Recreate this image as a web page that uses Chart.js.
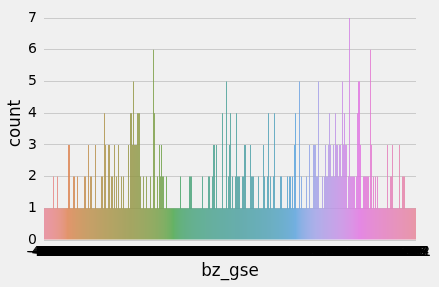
<!DOCTYPE html>
<html>
<head>
<meta charset="utf-8">
<script src="https://cdn.jsdelivr.net/npm/chart.js@4.4.1/dist/chart.umd.min.js"></script>
<style>
html,body{margin:0;padding:0;background:#f0f0f0;}
#wrap{width:439px;height:287px;position:relative;}
canvas{display:block;}
</style>
</head>
<body>
<div id="wrap"><canvas id="c" width="439" height="287"></canvas></div>
<script>
// ---- DATA ----
const categories = [
"-4.98","-4.91","-4.87","-4.82","-4.79","-4.75","-4.73","-4.68","-4.66","-4.61","-4.58","-4.55","-4.52","-4.49","-4.47","-4.43","-4.40","-4.37","-4.33","-4.31",
"-4.28","-4.26","-4.22","-4.19","-4.17","-4.14","-4.11","-4.08","-4.06","-4.03","-4.00","-3.97","-3.95","-3.92","-3.89","-3.86","-3.84","-3.81","-3.78","-3.76",
"-3.73","-3.70","-3.68","-3.65","-3.62","-3.60","-3.57","-3.54","-3.52","-3.49","-3.46","-3.44","-3.41","-3.38","-3.36","-3.33","-3.30","-3.28","-3.25","-3.22",
"-3.20","-3.17","-3.14","-3.12","-3.09","-3.06","-3.04","-3.01","-2.98","-2.96","-2.93","-2.90","-2.88","-2.85","-2.82","-2.80","-2.77","-2.74","-2.72","-2.69",
"-2.66","-2.64","-2.61","-2.58","-2.56","-2.53","-2.50","-2.48","-2.45","-2.42","-2.40","-2.37","-2.34","-2.32","-2.29","-2.26","-2.24","-2.21","-2.18","-2.16",
"-2.13","-2.10","-2.08","-2.05","-2.02","-2.00","-1.97","-1.94","-1.92","-1.89","-1.86","-1.84","-1.81","-1.78","-1.76","-1.73","-1.70","-1.68","-1.65","-1.62",
"-1.60","-1.57","-1.54","-1.52","-1.49","-1.46","-1.44","-1.41","-1.38","-1.36","-1.33","-1.30","-1.28","-1.25","-1.22","-1.20","-1.17","-1.14","-1.12","-1.09",
"-1.06","-1.04","-1.01","-0.98","-0.96","-0.93","-0.90","-0.88","-0.85","-0.82","-0.80","-0.77","-0.74","-0.72","-0.69","-0.66","-0.64","-0.61","-0.58","-0.56",
"-0.53","-0.50","-0.48","-0.45","-0.42","-0.40","-0.37","-0.34","-0.32","-0.29","-0.26","-0.24","-0.21","-0.18","-0.16","-0.13","-0.10","-0.08","-0.05","-0.02",
"0.0","0.03","0.05","0.08","0.11","0.13","0.16","0.19","0.21","0.24","0.27","0.29","0.32","0.35","0.37","0.40","0.43","0.45","0.48","0.51",
"0.53","0.56","0.59","0.61","0.64","0.67","0.69","0.72","0.75","0.77","0.80","0.83","0.85","0.88","0.91","0.93","0.96","0.99","1.01","1.04",
"1.07","1.09","1.12","1.15","1.17","1.20","1.23","1.25","1.28","1.31","1.33","1.36","1.39","1.41","1.44","1.47","1.49","1.52","1.55","1.57",
"1.60","1.63","1.65","1.68","1.71","1.73","1.76","1.79","1.81","1.84","1.87","1.89","1.92","1.95","1.97","2.00","2.03","2.05","2.08","2.11",
"2.13","2.16","2.19","2.21","2.24","2.27","2.29","2.32","2.35","2.37","2.40","2.43","2.45","2.48","2.51","2.53","2.56","2.59","2.61","2.64",
"2.67","2.69","2.72","2.75","2.77","2.80","2.83","2.85","2.88","2.91","2.93","2.96","2.99","3.01","3.04","3.07","3.09","3.12","3.15","3.17",
"3.20","3.23","3.25","3.28","3.31","3.33","3.36","3.39","3.41","3.44","3.47","3.49","3.52","3.55","3.57","3.60","3.63","3.65","3.68","3.71",
"3.73","3.76","3.79","3.81","3.84","3.87","3.89","3.92","3.95","3.97","4.00","4.03","4.05","4.08","4.11","4.13","4.16","4.19","4.21","4.24",
"4.27","4.29","4.32","4.35","4.37","4.40","4.43","4.45","4.48","4.51","4.53","4.56","4.59","4.61","4.64","4.67","4.69","4.72","4.75","4.77",
"4.80","4.83","4.85","4.88","4.91","4.93","4.96","4.99","5.01","5.04","5.12","5.21"
];
const counts = [
1,1,1,1,1,1,1,1,1,2, 1,1,1,2,1,1,1,1,1,1,
1,1,1,1,3,3,1,1,1,2, 2,1,1,2,1,1,1,1,1,1,
2,2,1,1,3,1,2,2,1,1, 1,3,1,1,1,1,1,2,2,1,
4,3,1,1,3,3,1,2,2,1, 3,1,2,1,3,1,1,2,1,2,
1,1,1,1,3,1,4,4,3,5, 3,3,3,4,4,4,2,1,1,2,
1,1,2,1,1,1,2,1,1,6, 4,1,1,2,1,3,2,3,2,2,
1,1,2,1,1,1,1,1,1,1, 1,1,1,1,1,1,2,1,1,1,
1,1,1,1,1,2,2,2,1,1, 1,1,1,1,1,1,1,1,2,1,
1,1,1,1,2,2,1,1,2,3, 3,1,3,1,1,1,1,1,4,1,
1,1,5,1,2,3,4,1,2,1, 1,2,4,2,2,2,1,1,2,2,
3,3,1,1,1,1,3,2,2,2, 1,1,1,1,2,1,1,1,1,3,
2,1,1,2,4,1,2,1,1,2, 4,1,1,1,1,1,2,2,1,1,
1,1,1,2,1,2,2,1,2,1, 3,4,1,1,1,5,1,2,1,1,
1,1,2,1,1,3,1,1,1,3, 3,3,2,2,5,1,1,1,2,1,
2,3,2,2,3,4,3,2,2,3, 2,4,3,3,2,3,3,2,5,3,
4,3,3,1,2,7,2,2,2,2, 2,1,2,4,5,5,3,1,1,2,
2,2,2,2,2,1,6,3,1,2, 1,2,1,2,1,1,1,1,1,1,
1,1,1,3,1,1,2,2,3,1, 1,1,1,1,1,3,1,1,2,2,
2,1,1,1,1,1,1,1,1,1, 1,1
];
const yTicks = [0,1,2,3,4,5,6,7];
const xTitle = "bz_gse";
const yTitle = "count";

// ---- seaborn husl palette (desaturated 0.75) ----
const M = [[3.2406,-1.5372,-0.4986],[-0.9689,1.8758,0.0415],[0.0557,-0.2040,1.0570]];
const refU = 0.19784, refV = 0.46834, kappa = 903.2962962, eps = 0.0088564516;
function maxChroma(L, H) {
  const hr = H / 360 * 2 * Math.PI, sinH = Math.sin(hr), cosH = Math.cos(hr);
  const sub1 = Math.pow(L + 16, 3) / 1560896;
  const sub2 = sub1 > eps ? sub1 : L / kappa;
  let res = Infinity;
  for (const [m1, m2, m3] of M) {
    const top = (0.99915 * m1 + 1.05122 * m2 + 1.14460 * m3) * sub2;
    const rb = 0.86330 * m3 - 0.17266 * m2;
    const lb = 0.12949 * m3 - 0.38848 * m1;
    const bottom = (rb * sinH + lb * cosH) * sub2;
    for (const t of [0, 1]) {
      const C = L * (top - 1.05122 * t) / (bottom + 0.17266 * sinH * t);
      if (C > 0 && C < res) res = C;
    }
  }
  return res;
}
function fInv(t) { const t3 = t * t * t; return t3 > eps ? t3 : (116 * t - 16) / kappa; }
function fromLinear(c) { return c <= 0.0031308 ? 12.92 * c : 1.055 * Math.pow(c, 1 / 2.4) - 0.055; }
function husl2rgb(h, s, l) {
  const C = maxChroma(l, h) / 100 * s;
  const hr = h / 360 * 2 * Math.PI;
  const U = C * Math.cos(hr), V = C * Math.sin(hr);
  const Y = fInv((l + 16) / 116);
  const vu = U / (13 * l) + refU, vv = V / (13 * l) + refV;
  const X = -(9 * Y * vu) / ((vu - 4) * vv - vu * vv);
  const Z = (9 * Y - 15 * vv * Y - vv * X) / (3 * vv);
  return M.map(r => Math.min(1, Math.max(0, fromLinear(r[0] * X + r[1] * Y + r[2] * Z))));
}
function rgb2hls(r, g, b) {
  const mx = Math.max(r, g, b), mn = Math.min(r, g, b), l = (mx + mn) / 2;
  if (mx === mn) return [0, l, 0];
  const s = l <= 0.5 ? (mx - mn) / (mx + mn) : (mx - mn) / (2 - mx - mn);
  const rc = (mx - r) / (mx - mn), gc = (mx - g) / (mx - mn), bc = (mx - b) / (mx - mn);
  let h = r === mx ? bc - gc : (g === mx ? 2 + rc - bc : 4 + gc - rc);
  h = ((h / 6) % 1 + 1) % 1;
  return [h, l, s];
}
function hv(m1, m2, h) {
  h = ((h % 1) + 1) % 1;
  if (h < 1 / 6) return m1 + (m2 - m1) * h * 6;
  if (h < 0.5) return m2;
  if (h < 2 / 3) return m1 + (m2 - m1) * (2 / 3 - h) * 6;
  return m1;
}
function hls2rgb(h, l, s) {
  if (s === 0) return [l, l, l];
  const m2 = l <= 0.5 ? l * (1 + s) : l + s - l * s, m1 = 2 * l - m2;
  return [hv(m1, m2, h + 1 / 3), hv(m1, m2, h), hv(m1, m2, h - 1 / 3)];
}
function palette(n) {
  const out = [];
  for (let i = 0; i < n; i++) {
    const h = ((i / n + 0.01) % 1) * 359;
    const rgb = husl2rgb(h, 0.9 * 99, 0.65 * 99);
    const [hh, ll, ss] = rgb2hls(...rgb);
    const d = hls2rgb(hh, ll, ss * 0.75);
    out.push('rgb(' + d.map(v => Math.round(v * 255)).join(',') + ')');
  }
  return out;
}
const colors = palette(categories.length);

Chart.defaults.font.family = "'DejaVu Sans', sans-serif";
new Chart(document.getElementById('c'), {
  type: 'bar',
  data: {
    labels: categories,
    datasets: [{
      data: counts,
      backgroundColor: colors,
      borderWidth: 0,
      barPercentage: 0.8,
      categoryPercentage: 1
    }]
  },
  options: {
    responsive: false,
    animation: false,
    events: [],
    layout: { padding: { left: 0, right: 23, top: 7, bottom: 0 } },
    plugins: { legend: { display: false }, tooltip: { enabled: false } },
    scales: {
      x: {
        grid: { display: false, drawTicks: false },
        border: { display: false },
        ticks: {
          autoSkip: false, maxRotation: 0, minRotation: 0,
          color: '#000', font: { size: 14 }, padding: 4
        },
        title: { display: true, text: xTitle, color: '#000', font: { size: 16.8 }, padding: { top: 0, bottom: 5 } },
        afterFit: s => { s.height = 47; s.paddingLeft = 0; s.paddingRight = 0; }
      },
      y: {
        min: 0, max: 7.35,
        grid: { color: '#cbcbcb', lineWidth: 1, drawTicks: false },
        border: { display: false },
        ticks: { stepSize: 1, color: '#000', font: { size: 14 }, padding: 7 },
        afterBuildTicks: s => { s.ticks = yTicks.map(v => ({ value: v })); },
        title: { display: true, text: yTitle, color: '#000', font: { size: 16.8 }, padding: { top: 6, bottom: 0 } },
        afterFit: s => { s.width = 44; s.paddingTop = 0; s.paddingBottom = 0; }
      }
    }
  }
});
</script>
</body>
</html>
